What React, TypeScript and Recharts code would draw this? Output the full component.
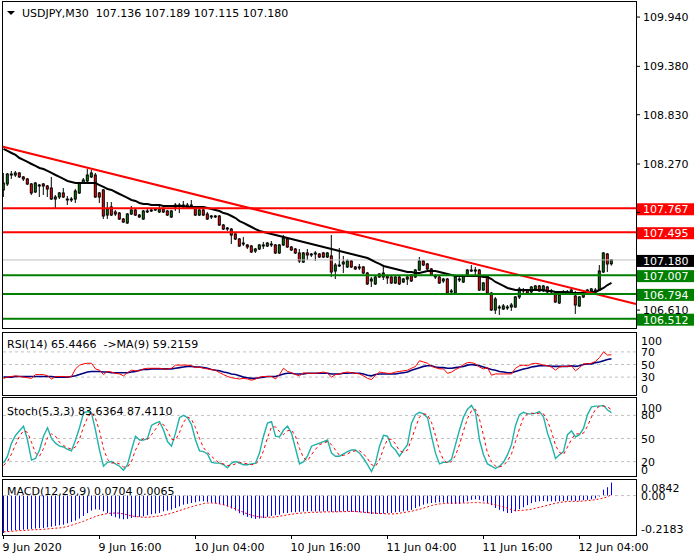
import React from 'react';
import { ComposedChart, Bar, Line, XAxis, YAxis, ReferenceLine } from 'recharts';

// ---------------- data ----------------
const timeLabels = ['9 Jun 2020', '9 Jun 16:00', '10 Jun 04:00', '10 Jun 16:00', '11 Jun 04:00', '11 Jun 16:00', '12 Jun 04:00'];
const timeTickBars = [0, 24, 48, 72, 96, 120, 144];

const opens = [
  107.975, 108.043, 108.145, 108.145, 108.168, 108.123, 108.100, 108.043, 107.952, 108.031,
  108.043, 108.020, 107.997, 107.872, 107.895, 107.941, 107.872, 107.861, 107.872, 107.941,
  108.054, 108.077, 108.123, 108.145, 107.941, 107.975, 107.690, 107.782, 107.725, 107.713,
  107.645, 107.600, 107.702, 107.747, 107.690, 107.645, 107.725, 107.747, 107.747, 107.725,
  107.759, 107.736, 107.668, 107.782, 107.793, 107.804, 107.782, 107.804, 107.782, 107.690,
  107.747, 107.702, 107.668, 107.679, 107.679, 107.577, 107.531, 107.531, 107.475, 107.418,
  107.361, 107.350, 107.338, 107.281, 107.304, 107.350, 107.338, 107.361, 107.350, 107.259,
  107.350, 107.418, 107.327, 107.304, 107.259, 107.156, 107.259, 107.236, 107.247, 107.247,
  107.259, 107.213, 107.225, 107.054, 107.122, 107.134, 107.100, 107.168, 107.100, 107.088,
  107.100, 107.031, 106.941, 106.907, 107.020, 106.986, 106.997, 106.986, 106.918, 106.986,
  106.929, 106.963, 107.009, 106.986, 107.065, 107.168, 107.134, 107.077, 106.997, 106.986,
  106.941, 106.963, 106.816, 106.804, 106.963, 106.929, 107.009, 107.065, 107.054, 107.065,
  106.838, 106.997, 106.804, 106.611, 106.645, 106.622, 106.645, 106.645, 106.645, 106.759,
  106.838, 106.838, 106.816, 106.850, 106.884, 106.827, 106.872, 106.827, 106.804, 106.691,
  106.804, 106.816, 106.816, 106.770, 106.657, 106.759, 106.804, 106.827, 106.816, 106.838,
  107.043, 107.247, 107.136,
];
const highs = [
  108.168, 108.168, 108.191, 108.191, 108.179, 108.134, 108.111, 108.054, 108.066, 108.043,
  108.054, 108.031, 108.123, 107.918, 107.952, 107.997, 107.907, 107.895, 107.986, 108.066,
  108.111, 108.213, 108.202, 108.168, 107.952, 107.986, 107.838, 107.838, 107.747, 107.725,
  107.656, 107.713, 107.793, 107.759, 107.702, 107.747, 107.759, 107.759, 107.770, 107.793,
  107.782, 107.747, 107.747, 107.827, 107.827, 107.850, 107.827, 107.861, 107.793, 107.759,
  107.759, 107.725, 107.690, 107.690, 107.690, 107.588, 107.554, 107.543, 107.486, 107.429,
  107.441, 107.361, 107.350, 107.316, 107.361, 107.384, 107.384, 107.395, 107.361, 107.361,
  107.463, 107.429, 107.338, 107.316, 107.304, 107.270, 107.304, 107.259, 107.281, 107.259,
  107.270, 107.270, 107.463, 107.145, 107.316, 107.225, 107.191, 107.179, 107.111, 107.134,
  107.111, 107.043, 106.986, 106.997, 107.031, 107.100, 107.009, 106.997, 106.997, 106.997,
  106.975, 107.009, 107.020, 107.077, 107.213, 107.179, 107.145, 107.088, 107.020, 106.997,
  106.975, 106.975, 106.850, 106.997, 106.986, 107.009, 107.077, 107.122, 107.100, 107.077,
  106.929, 107.009, 106.816, 106.759, 106.668, 106.679, 106.668, 106.691, 106.770, 106.872,
  106.861, 106.850, 106.884, 106.895, 106.895, 106.895, 106.884, 106.850, 106.816, 106.793,
  106.838, 106.838, 106.850, 106.827, 106.770, 106.816, 106.850, 106.861, 106.861, 107.122,
  107.270, 107.259, 107.189,
];
const lows = [
  107.895, 108.020, 108.100, 108.123, 108.111, 108.077, 108.031, 107.918, 107.941, 107.895,
  107.918, 107.895, 107.861, 107.770, 107.872, 107.884, 107.804, 107.838, 107.827, 107.929,
  108.043, 108.066, 108.111, 107.884, 107.827, 107.645, 107.645, 107.679, 107.679, 107.634,
  107.600, 107.588, 107.690, 107.679, 107.656, 107.634, 107.713, 107.725, 107.736, 107.713,
  107.713, 107.679, 107.656, 107.736, 107.713, 107.759, 107.770, 107.770, 107.679, 107.679,
  107.679, 107.634, 107.645, 107.656, 107.566, 107.520, 107.509, 107.361, 107.406, 107.327,
  107.338, 107.304, 107.259, 107.259, 107.293, 107.304, 107.327, 107.327, 107.247, 107.247,
  107.338, 107.316, 107.281, 107.247, 107.145, 107.145, 107.179, 107.213, 107.168, 107.202,
  107.202, 107.202, 106.986, 106.963, 107.100, 107.031, 107.088, 107.088, 107.065, 107.065,
  107.020, 106.895, 106.872, 106.895, 106.975, 106.952, 106.907, 106.907, 106.907, 106.895,
  106.918, 106.895, 106.929, 106.975, 107.054, 107.111, 107.065, 106.997, 106.963, 106.907,
  106.918, 106.793, 106.793, 106.793, 106.929, 106.918, 106.997, 107.043, 107.009, 106.827,
  106.827, 106.793, 106.600, 106.566, 106.554, 106.611, 106.611, 106.600, 106.634, 106.736,
  106.804, 106.793, 106.804, 106.838, 106.816, 106.816, 106.804, 106.793, 106.691, 106.679,
  106.793, 106.793, 106.804, 106.566, 106.645, 106.747, 106.793, 106.816, 106.804, 106.827,
  107.031, 107.043, 107.115,
];
const closes = [
  108.054, 108.156, 108.156, 108.168, 108.123, 108.100, 108.043, 107.941, 108.054, 108.020,
  108.020, 107.986, 107.872, 107.895, 107.941, 107.895, 107.861, 107.872, 107.963, 108.054,
  108.088, 108.145, 108.168, 107.895, 107.895, 107.679, 107.759, 107.690, 107.702, 107.645,
  107.611, 107.702, 107.747, 107.690, 107.668, 107.736, 107.736, 107.736, 107.759, 107.759,
  107.725, 107.690, 107.736, 107.804, 107.804, 107.782, 107.804, 107.793, 107.690, 107.747,
  107.690, 107.645, 107.679, 107.668, 107.577, 107.531, 107.543, 107.463, 107.418, 107.338,
  107.372, 107.327, 107.270, 107.304, 107.350, 107.338, 107.372, 107.350, 107.259, 107.350,
  107.429, 107.327, 107.293, 107.259, 107.168, 107.259, 107.236, 107.247, 107.259, 107.213,
  107.213, 107.259, 107.043, 107.122, 107.111, 107.156, 107.168, 107.100, 107.077, 107.100,
  107.031, 106.907, 106.963, 106.986, 106.986, 107.031, 106.975, 106.918, 106.986, 106.907,
  106.963, 106.986, 106.941, 107.065, 107.168, 107.122, 107.077, 107.009, 106.986, 106.918,
  106.963, 106.804, 106.827, 106.986, 106.952, 106.997, 107.065, 107.054, 107.065, 106.838,
  106.918, 106.804, 106.611, 106.736, 106.634, 106.657, 106.634, 106.668, 106.759, 106.850,
  106.827, 106.804, 106.872, 106.884, 106.827, 106.884, 106.816, 106.816, 106.702, 106.781,
  106.816, 106.804, 106.838, 106.668, 106.759, 106.804, 106.838, 106.850, 106.838, 107.054,
  107.259, 107.134, 107.180,
];
const maValues = [
  108.441, 108.418, 108.395, 108.373, 108.338, 108.316, 108.293, 108.270, 108.248, 108.225,
  108.213, 108.191, 108.168, 108.145, 108.123, 108.100, 108.077, 108.066, 108.054, 108.054,
  108.054, 108.054, 108.054, 108.054, 108.031, 108.009, 107.986, 107.975, 107.952, 107.929,
  107.907, 107.884, 107.861, 107.850, 107.827, 107.816, 107.816, 107.804, 107.804, 107.804,
  107.793, 107.793, 107.793, 107.793, 107.793, 107.793, 107.782, 107.782, 107.782, 107.782,
  107.782, 107.770, 107.759, 107.747, 107.736, 107.713, 107.702, 107.679, 107.656, 107.622,
  107.600, 107.577, 107.554, 107.531, 107.509, 107.497, 107.486, 107.475, 107.463, 107.452,
  107.441, 107.429, 107.418, 107.406, 107.395, 107.384, 107.372, 107.361, 107.350, 107.338,
  107.327, 107.316, 107.304, 107.293, 107.281, 107.270, 107.259, 107.247, 107.236, 107.225,
  107.213, 107.202, 107.179, 107.156, 107.134, 107.111, 107.100, 107.088, 107.077, 107.065,
  107.054, 107.043, 107.043, 107.031, 107.031, 107.043, 107.054, 107.054, 107.054, 107.043,
  107.031, 107.020, 107.009, 106.997, 106.997, 106.997, 106.997, 106.997, 106.997, 106.997,
  106.986, 106.986, 106.963, 106.929, 106.907, 106.884, 106.861, 106.850, 106.838, 106.838,
  106.838, 106.838, 106.838, 106.838, 106.838, 106.838, 106.827, 106.827, 106.816, 106.816,
  106.816, 106.816, 106.804, 106.804, 106.804, 106.804, 106.804, 106.816, 106.816, 106.838,
  106.861, 106.895, 106.918,
];

const rsiValues = [
  28, 30, 31, 32, 31, 30, 29, 28, 34, 34, 34, 32, 27, 31, 31, 31, 30, 31, 43, 49,
  51, 52, 52, 43, 41, 34, 39, 38, 36, 35, 32, 37, 41, 40, 40, 43, 44, 44, 44, 44,
  43, 43, 44, 49, 49, 49, 49, 48, 45, 46, 44, 43, 42, 41, 37, 34, 31, 29, 28, 27,
  28, 27, 25, 27, 30, 31, 31, 31, 27, 34, 44, 39, 37, 34, 32, 37, 36, 36, 36, 37,
  38, 36, 30, 34, 35, 37, 38, 37, 36, 35, 32, 28, 26, 33, 38, 37, 36, 36, 38, 39,
  40, 41, 44, 47, 56, 54, 52, 47, 45, 43, 43, 36, 38, 42, 45, 50, 53, 53, 51, 46,
  43, 45, 33, 35, 35, 35, 35, 35, 44, 48, 49, 48, 51, 52, 51, 49, 48, 46, 41, 46,
  47, 47, 48, 40, 45, 51, 51, 52, 55, 61, 70, 65, 65.4466,
];
const rsiMaValues = [
  30, 30, 30, 31, 31, 31, 31, 31, 31, 31, 31, 31, 31, 30, 30, 30, 30, 31, 32, 34,
  36, 38, 39, 39, 39, 38, 38, 37, 37, 37, 37, 37, 38, 39, 41, 42, 42, 43, 43, 43,
  43, 43, 43, 44, 45, 46, 47, 47, 46, 46, 45, 44, 42, 41, 40, 38, 37, 35, 34, 32,
  30, 29, 28, 28, 29, 30, 31, 31, 31, 33, 35, 36, 36, 35, 35, 35, 36, 36, 36, 36,
  36, 36, 35, 35, 35, 36, 36, 37, 36, 36, 35, 33, 32, 34, 35, 35, 35, 35, 35, 36,
  37, 38, 41, 43, 45, 47, 48, 48, 46, 45, 45, 44, 44, 45, 46, 47, 49, 50, 49, 48,
  46, 44, 42, 41, 39, 38, 37, 37, 39, 41, 43, 44, 46, 47, 48, 48, 48, 47, 47, 47,
  47, 47, 48, 47, 48, 50, 51, 51, 53, 54, 56, 58, 59.2159,
];

const stochK = [
  18, 27, 44, 54, 60, 66, 48, 22, 24, 35, 53, 64, 50, 44, 40, 39, 36, 34, 48, 64,
  83, 85, 83, 61, 35, 14, 19, 20, 17, 14, 9, 16, 35, 53, 48, 48, 50, 67, 70, 72,
  61, 46, 40, 57, 77, 80, 77, 68, 48, 34, 33, 30, 19, 18, 18, 16, 12, 18, 20, 18,
  16, 16, 17, 18, 31, 53, 70, 72, 53, 52, 61, 66, 57, 37, 17, 20, 27, 40, 42, 44,
  46, 48, 31, 27, 27, 30, 33, 35, 35, 31, 24, 16, 7, 18, 40, 54, 53, 40, 35, 27,
  35, 42, 70, 81, 84, 82, 77, 53, 31, 17, 19, 19, 23, 42, 61, 78, 88, 93, 84, 48,
  29, 17, 14, 11, 14, 19, 29, 42, 67, 81, 84, 82, 82, 83, 85, 78, 57, 42, 24, 29,
  33, 55, 60, 52, 55, 63, 81, 91, 92, 92, 93, 87, 83.6364,
];
const stochD = [
  15, 20, 30, 42, 53, 60, 58, 45, 31, 27, 37, 51, 56, 53, 45, 41, 38, 36, 39, 49,
  65, 77, 84, 76, 60, 37, 23, 18, 19, 17, 13, 13, 20, 35, 45, 50, 49, 55, 62, 70,
  68, 60, 49, 48, 58, 71, 78, 75, 64, 50, 38, 32, 27, 22, 18, 17, 15, 15, 17, 19,
  18, 17, 16, 17, 22, 34, 51, 65, 65, 59, 55, 60, 61, 53, 37, 25, 21, 29, 36, 42,
  44, 46, 42, 35, 28, 28, 30, 33, 34, 34, 30, 24, 16, 14, 22, 37, 49, 49, 43, 34,
  32, 35, 49, 64, 78, 82, 81, 71, 54, 34, 22, 18, 20, 28, 42, 60, 76, 86, 88, 75,
  54, 31, 20, 14, 13, 15, 21, 30, 46, 63, 77, 82, 83, 82, 83, 82, 73, 59, 41, 32,
  29, 39, 49, 56, 56, 57, 66, 78, 88, 92, 92, 91, 87.411,
];

const macdHist = [
  -0.202, -0.193, -0.189, -0.187, -0.186, -0.184, -0.182, -0.180, -0.178, -0.176,
  -0.175, -0.171, -0.168, -0.164, -0.160, -0.157, -0.150, -0.142, -0.135, -0.124,
  -0.110, -0.095, -0.081, -0.074, -0.076, -0.085, -0.095, -0.110, -0.117, -0.124,
  -0.128, -0.126, -0.121, -0.117, -0.115, -0.112, -0.106, -0.101, -0.097, -0.094,
  -0.085, -0.081, -0.076, -0.067, -0.058, -0.049, -0.045, -0.040, -0.036, -0.031,
  -0.031, -0.034, -0.038, -0.041, -0.045, -0.052, -0.059, -0.070, -0.081, -0.095,
  -0.106, -0.115, -0.122, -0.126, -0.124, -0.121, -0.115, -0.110, -0.106, -0.103,
  -0.095, -0.094, -0.090, -0.090, -0.088, -0.086, -0.085, -0.085, -0.086, -0.086,
  -0.086, -0.085, -0.088, -0.088, -0.087, -0.086, -0.085, -0.088, -0.088, -0.090,
  -0.092, -0.095, -0.099, -0.099, -0.099, -0.097, -0.095, -0.094, -0.090, -0.088,
  -0.085, -0.081, -0.077, -0.067, -0.058, -0.049, -0.043, -0.040, -0.038, -0.036,
  -0.038, -0.041, -0.045, -0.045, -0.045, -0.038, -0.031, -0.023, -0.020, -0.023,
  -0.031, -0.041, -0.052, -0.067, -0.077, -0.085, -0.094, -0.094, -0.085, -0.074,
  -0.063, -0.052, -0.041, -0.034, -0.031, -0.029, -0.031, -0.031, -0.031, -0.031,
  -0.029, -0.027, -0.027, -0.029, -0.027, -0.025, -0.023, -0.020, -0.016, -0.005,
  0.032, 0.045, 0.0704,
];
const macdSignal = [
  -0.196, -0.194, -0.193, -0.191, -0.189, -0.189, -0.187, -0.185, -0.184, -0.184,
  -0.182, -0.180, -0.178, -0.176, -0.175, -0.171, -0.167, -0.160, -0.153, -0.146,
  -0.139, -0.130, -0.121, -0.113, -0.106, -0.101, -0.097, -0.095, -0.094, -0.095,
  -0.099, -0.104, -0.110, -0.113, -0.115, -0.117, -0.117, -0.115, -0.113, -0.110,
  -0.106, -0.101, -0.095, -0.088, -0.081, -0.074, -0.067, -0.061, -0.054, -0.049,
  -0.043, -0.040, -0.040, -0.041, -0.045, -0.049, -0.056, -0.063, -0.072, -0.081,
  -0.090, -0.099, -0.106, -0.112, -0.115, -0.117, -0.117, -0.117, -0.115, -0.112,
  -0.108, -0.104, -0.101, -0.097, -0.095, -0.094, -0.092, -0.090, -0.090, -0.090,
  -0.088, -0.088, -0.088, -0.088, -0.087, -0.087, -0.086, -0.085, -0.086, -0.088,
  -0.090, -0.092, -0.094, -0.095, -0.097, -0.097, -0.099, -0.099, -0.099, -0.095,
  -0.092, -0.088, -0.085, -0.079, -0.074, -0.067, -0.061, -0.054, -0.049, -0.045,
  -0.043, -0.041, -0.041, -0.040, -0.040, -0.040, -0.040, -0.038, -0.038, -0.038,
  -0.040, -0.041, -0.045, -0.050, -0.056, -0.061, -0.068, -0.076, -0.081, -0.081,
  -0.079, -0.077, -0.074, -0.068, -0.063, -0.058, -0.052, -0.047, -0.041, -0.038,
  -0.034, -0.032, -0.031, -0.031, -0.031, -0.029, -0.027, -0.025, -0.022, -0.018,
  -0.013, -0.007, 0.0065,
];

const priceTicks = [106.61, 107.165, 107.72, 108.27, 108.83, 109.38, 109.94];
const redLevels = [107.767, 107.495];
const greenLevels = [107.007, 106.794, 106.512];
const bidPrice = 107.18;
const trendLine = [
  { bar: -0.375, price: 108.469 },
  { bar: 158.125, price: 106.679 },
];
const rsiTicks = [0, 30, 50, 70, 100];
const rsiLevels = [30, 50, 70];
const stochTicks = [0, 20, 50, 80, 100];
const stochLevels = [20, 50, 80];
const macdTicks = [-0.2183, 0, 0.0842];

// ---------------- layout / style ----------------
const FONT = '"DejaVu Sans", Verdana, sans-serif';
const X_DOMAIN: [number, number] = [-0.375, 158.125];
const PRICE_DOMAIN: [number, number] = [106.395, 110.111];
const GREEN = '#008000';
const RED = '#ff0000';
const BLUE = '#0000ff';
const tagLevels = [...redLevels, ...greenLevels, bidPrice];

const mainRows = closes.map((c, i) => ({ i, o: opens[i], h: highs[i], l: lows[i], c, ma: maValues[i] }));
const rsiRows = rsiValues.map((v, i) => ({ i, rsi: v, ma: rsiMaValues[i] }));
const stochRows = stochK.map((v, i) => ({ i, k: v, d: stochD[i] }));
const macdRows = macdHist.map((v, i) => ({ i, hist: v, sig: macdSignal[i] }));

const Candle = (props: any) => {
  const { x, y, width, height, payload } = props;
  if (!payload || payload.h == null) return null;
  const { o, h, l, c } = payload;
  const top = Math.min(y, y + height);
  const span = Math.abs(height);
  const cx = x + width / 2;
  const py = (v: number) => (h === l ? top : top + ((h - v) / (h - l)) * span);
  const yo = py(o);
  const yc = py(c);
  const bTop = Math.min(yo, yc);
  const bH = Math.max(Math.abs(yo - yc), 0.01);
  const up = c >= o;
  return (
    <g>
      <line x1={cx} x2={cx} y1={top} y2={top + span} stroke="#000" strokeWidth={1} />
      <rect x={cx - 1} y={bTop} width={2} height={bH} fill={up ? GREEN : RED} stroke="#000" strokeWidth={1} />
    </g>
  );
};

const HistBar = (props: any) => {
  const { x, y, width, height } = props;
  if (x == null || y == null) return null;
  const cx = Math.floor(x + width / 2) + 0.5;
  const top = Math.min(y, y + height);
  const h = Math.max(Math.abs(height), 0.5);
  return <line x1={cx} x2={cx} y1={top} y2={top + h} stroke={BLUE} strokeWidth={1} />;
};

const PriceTick = (props: any) => {
  const { x, y, payload } = props;
  const v = Number(payload.value);
  // labels hidden beneath the price tags are not drawn
  if (tagLevels.some((t) => Math.abs(t - v) < 0.06)) return <g />;
  return (
    <text x={x} y={y + 4} fontSize={11} fontFamily={FONT} fill="#000" textAnchor="start">
      {v.toFixed(3)}
    </text>
  );
};

const makePaneTick = (fmt: (v: number) => string, minV: number, maxV: number) => (props: any) => {
  const { x, y, payload } = props;
  const v = Number(payload.value);
  let off = 0;
  if (v === maxV) off = 7.5;
  if (v === minV) off = -7.5;
  return (
    <text x={x} y={y + 4 + off} fontSize={11} fontFamily={FONT} fill="#000" textAnchor="start">
      {fmt(v)}
    </text>
  );
};

const TimeTick = (props: any) => {
  const { x, y, payload } = props;
  const idx = timeTickBars.indexOf(Number(payload.value));
  return (
    <text x={x - 1} y={y + 10} fontSize={11} fontFamily={FONT} fill="#000" textAnchor="start">
      {timeLabels[idx]}
    </text>
  );
};

const levelTag = (text: string, bg: string) => (props: any) => {
  const vb = props.viewBox || {};
  const x0 = (vb.x || 0) + (vb.width || 0) + 1;
  const yc = vb.y || 0;
  return (
    <g>
      <rect x={x0} y={yc - 5} width={57} height={12} fill={bg} />
      <text x={x0 + 6} y={yc + 5} fontSize={11} fontFamily={FONT} fill="#fff">
        {text}
      </text>
    </g>
  );
};

const hiddenX = <XAxis dataKey="i" type="number" domain={X_DOMAIN} allowDataOverflow hide />;

export default function App() {
  return (
    <div style={{ position: 'absolute', left: 0, top: 0, width: 700, height: 560, background: '#fff', overflow: 'hidden' }}>
      {/* main pane */}
      <div style={{ position: 'absolute', left: 0, top: 0 }}>
        <ComposedChart width={700} height={330} data={mainRows} margin={{ top: 2, right: 0, bottom: 1, left: 2 }}>
          {hiddenX}
          <YAxis
            orientation="right"
            width={64}
            domain={PRICE_DOMAIN}
            allowDataOverflow
            ticks={priceTicks}
            interval={0}
            tick={PriceTick}
            tickSize={4}
            tickMargin={3}
            axisLine={false}
            tickLine={{ stroke: '#000' }}
          />
          <ReferenceLine y={bidPrice} stroke="#c0c0c0" strokeWidth={1} />
          <Bar dataKey={(d: any) => [d.l, d.h]} shape={Candle} barSize={4} isAnimationActive={false} />
          <Line dataKey="ma" stroke="#000" strokeWidth={2} dot={false} isAnimationActive={false} />
          <ReferenceLine
            segment={[{ x: trendLine[0].bar, y: trendLine[0].price }, { x: trendLine[1].bar, y: trendLine[1].price }]}
            stroke={RED}
            strokeWidth={2}
          />
          {redLevels.map((v) => (
            <ReferenceLine key={v} y={v} stroke={RED} strokeWidth={2} label={levelTag(v.toFixed(3), RED)} />
          ))}
          {greenLevels.map((v) => (
            <ReferenceLine key={v} y={v} stroke={GREEN} strokeWidth={2} label={levelTag(v.toFixed(3), GREEN)} />
          ))}
          <ReferenceLine y={bidPrice} stroke="none" label={levelTag(bidPrice.toFixed(3), '#000')} />
        </ComposedChart>
      </div>

      {/* RSI pane */}
      <div style={{ position: 'absolute', left: 0, top: 330 }}>
        <ComposedChart width={700} height={70} data={rsiRows} margin={{ top: 3, right: 0, bottom: 4, left: 2 }}>
          {hiddenX}
          <YAxis
            orientation="right"
            width={64}
            domain={[0, 100]}
            allowDataOverflow
            ticks={rsiTicks}
            interval={0}
            tick={makePaneTick((v) => String(v), 0, 100)}
            tickSize={0}
            tickMargin={5}
            axisLine={false}
            tickLine={false}
          />
          {rsiLevels.map((v) => (
            <ReferenceLine key={v} y={v} stroke="#c0c0c0" strokeDasharray="3 3" />
          ))}
          <Line dataKey="ma" stroke="#000080" strokeWidth={1.6} dot={false} isAnimationActive={false} />
          <Line dataKey="rsi" stroke={RED} strokeWidth={1} dot={false} isAnimationActive={false} />
        </ComposedChart>
      </div>

      {/* Stochastic pane */}
      <div style={{ position: 'absolute', left: 0, top: 398 }}>
        <ComposedChart width={700} height={80} data={stochRows} margin={{ top: 2, right: 0, bottom: 1, left: 2 }}>
          {hiddenX}
          <YAxis
            orientation="right"
            width={64}
            domain={[0, 100]}
            allowDataOverflow
            ticks={stochTicks}
            interval={0}
            tick={makePaneTick((v) => String(v), 0, 100)}
            tickSize={0}
            tickMargin={5}
            axisLine={false}
            tickLine={false}
          />
          {stochLevels.map((v) => (
            <ReferenceLine key={v} y={v} stroke="#c0c0c0" strokeDasharray="3 3" />
          ))}
          <Line dataKey="k" stroke="#20b2aa" strokeWidth={1.4} dot={false} isAnimationActive={false} />
          <Line dataKey="d" stroke={RED} strokeWidth={1} strokeDasharray="3 3" dot={false} isAnimationActive={false} />
        </ComposedChart>
      </div>

      {/* MACD pane */}
      <div style={{ position: 'absolute', left: 0, top: 478 }}>
        <ComposedChart width={700} height={82} data={macdRows} margin={{ top: 2, right: 0, bottom: 0, left: 2 }}>
          <XAxis
            dataKey="i"
            type="number"
            domain={X_DOMAIN}
            allowDataOverflow
            ticks={timeTickBars}
            interval={0}
            height={24}
            tickSize={3}
            tickMargin={2}
            axisLine={false}
            tickLine={{ stroke: '#000' }}
            tick={TimeTick}
          />
          <YAxis
            orientation="right"
            width={64}
            domain={[macdTicks[0], macdTicks[2]]}
            allowDataOverflow
            ticks={macdTicks}
            interval={0}
            tick={makePaneTick((v) => (v === 0 ? '0.00' : v.toFixed(4)), macdTicks[0], macdTicks[2])}
            tickSize={0}
            tickMargin={5}
            axisLine={false}
            tickLine={false}
          />
          <ReferenceLine y={0} stroke="#c0c0c0" strokeDasharray="3 3" />
          <Bar dataKey="hist" fill={BLUE} shape={HistBar} barSize={1} isAnimationActive={false} />
          <Line dataKey="sig" stroke={RED} strokeWidth={1} strokeDasharray="2 2" dot={false} isAnimationActive={false} />
        </ComposedChart>
      </div>

      {/* frames and headers */}
      <svg width={700} height={560} style={{ position: 'absolute', left: 0, top: 0, pointerEvents: 'none' }}>
        <g fill="none" stroke="#000" strokeWidth={1} shapeRendering="crispEdges">
          <rect x={2.5} y={1.5} width={634} height={327} />
          <rect x={2.5} y={332.5} width={634} height={63} />
          <rect x={2.5} y={397.5} width={634} height={79} />
          <rect x={2.5} y={479.5} width={634} height={56} />
        </g>
        <polygon points="7,11 15,11 11,15" fill="#000" />
        <g fontFamily={FONT} fontSize={11} fill="#000">
          <text x={22} y={16.5} style={{ whiteSpace: 'pre' }}>{'USDJPY,M30  107.136 107.189 107.115 107.180'}</text>
          <text x={7} y={347.5} style={{ whiteSpace: 'pre' }}>{'RSI(14) 65.4466  ->MA(9) 59.2159'}</text>
          <text x={7} y={414.5} style={{ whiteSpace: 'pre' }}>{'Stoch(5,3,3) 83.6364 87.4110'}</text>
          <text x={7} y={494.5} style={{ whiteSpace: 'pre' }}>{'MACD(12,26,9) 0.0704 0.0065'}</text>
        </g>
      </svg>
    </div>
  );
}
